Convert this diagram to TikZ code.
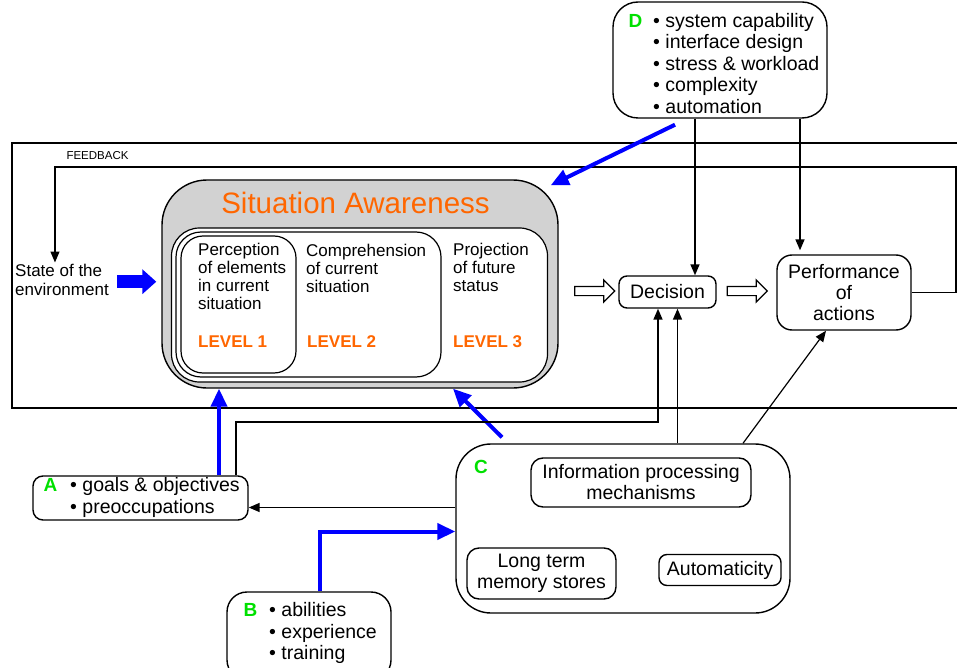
\documentclass[tikz,border=0pt]{standalone}
\usepackage{fontspec}
\setmainfont{Liberation Sans}
\usetikzlibrary{arrows.meta,shapes.arrows}
\definecolor{saorange}{RGB}{255,102,0}
\definecolor{sagreen}{RGB}{0,224,0}
\definecolor{sagray}{RGB}{210,210,210}
\definecolor{sablue}{RGB}{0,0,255}
\newcommand{\lettertag}[1]{\textcolor{sagreen}{\fontsize{19}{21}\selectfont\bfseries #1}}

\begin{document}
\begin{tikzpicture}[x=1pt,y=-1pt,
    box/.style={draw, line width=1.4pt, rounded corners=#1, inner sep=2pt, align=center, font=\fontsize{19.5}{21}\selectfont},
    box/.default=10pt,
    txt/.style={inner sep=0pt, font=\fontsize{19.5}{21.5}\selectfont},
    satxt/.style={inner sep=0pt, anchor=base west, font=\fontsize{17}{18.3}\selectfont},
    lvl/.style={inner sep=0pt, anchor=base west, text=saorange, font=\fontsize{17}{18}\selectfont\bfseries},
    tag/.style={inner sep=0pt, text=sagreen, font=\fontsize{19}{21}\selectfont\bfseries},
    blk/.style={line width=1.6pt, -{Triangle[length=11pt,width=9pt]}},
    blu/.style={color=sablue, line width=4pt, -{Triangle[length=18pt,width=16pt]}},
    hollow/.style={draw, line width=1.2pt, fill=white, shape=single arrow, inner sep=4pt, single arrow head extend=6.5pt, minimum height=40pt}]
    \useasboundingbox (0,0) rectangle (957,668);
    \draw[line width=2.4pt] (12,143) rectangle (975,408);

    \node[box=45pt, fill=sagray, minimum width=396pt, minimum height=208pt] (sa) at (360,284) {};
    \node[box=28pt, fill=white, line width=1.2pt, minimum width=376pt, minimum height=154pt] (lvls) at (359.5,305) {};
    \node[box=25pt, line width=1.2pt, minimum width=265pt, minimum height=145pt] (lvtwo) at (308.5,304.5) {};
    \node[box=22pt, line width=1.2pt, minimum width=115pt, minimum height=137pt] (lvone) at (238.5,304.5) {};
    \node[inner sep=0pt, text=saorange, font=\fontsize{29.5}{32}\selectfont] (satitle) at (355.5,203) {Situation Awareness};
    \node[satxt] (perc) at (198,255) {\begin{tabular}[t]{@{}l@{}}Perception\\of elements\\in current\\situation\end{tabular}};
    \node[satxt] (comp) at (306,256) {\begin{tabular}[t]{@{}l@{}}Comprehension\\of current\\situation\end{tabular}};
    \node[satxt] (proj) at (453,255) {\begin{tabular}[t]{@{}l@{}}Projection\\of future\\status\end{tabular}};
    \node[lvl] (lvla) at (198,347) {LEVEL 1};
    \node[lvl] (lvlb) at (307,347) {LEVEL 2};
    \node[lvl] (lvlc) at (453,347) {LEVEL 3};

    \node[satxt, font=\fontsize{17}{19}\selectfont] (env) at (15,276) {\begin{tabular}[t]{@{}l@{}}State of the\\environment\end{tabular}};
    \node[inner sep=0pt, font=\fontsize{11.5}{12}\selectfont] (fblabel) at (97.5,156) {FEEDBACK};

    \node[hollow] (hola) at (592.5,291) {};
    \node[box=8pt, minimum width=97pt, minimum height=32pt] (dec) at (667.5,292) {Decision};
    \node[hollow] (holb) at (745,291) {};
    \node[box=15pt, minimum width=134pt, minimum height=75pt] (perf) at (844,292.5) {Performance\\of\\actions};

    \node[box=25pt, minimum width=214pt, minimum height=116pt] (dbox) at (720,60) {};
    \node[txt, anchor=west] (dtext) at ([shift={(16,6)}]dbox.west) {\begin{tabular}{@{}l@{\hspace{11pt}}l@{}}\lettertag{D} & • system capability\\ & • interface design\\ & • stress \& workload\\ & • complexity\\ & • automation\end{tabular}};

    \node[box=35pt, minimum width=334pt, minimum height=169pt] (cbox) at (623,528.5) {};
    \node[tag] (ctag) at (481,467) {C};
    \node[box=12pt, minimum width=220pt, minimum height=49pt] (ipm) at (641,482.5) {Information processing\\mechanisms};
    \node[box=12pt, minimum width=149pt, minimum height=51pt] (ltm) at (541.5,573.5) {Long term\\memory stores};
    \node[box=8pt, minimum width=122pt, minimum height=31pt] (auto) at (720,570) {Automaticity};

    \node[box=10pt, minimum width=215pt, minimum height=44pt] (abox) at (140.5,498) {};
    \node[txt, anchor=west] (atext) at ([xshift=11pt]abox.west) {\begin{tabular}{@{}l@{\hspace{13pt}}l@{}}\lettertag{A} & • goals \& objectives\\ & • preoccupations\end{tabular}};
    \node[box=20pt, minimum width=164pt, minimum height=88pt] (bbox) at (309,636) {};
    \node[txt, anchor=west] (btext) at ([shift={(17,-2)}]bbox.west) {\begin{tabular}{@{}l@{\hspace{12pt}}l@{}}\lettertag{B} & • abilities\\ & • experience\\ & • training\end{tabular}};

    \coordinate (fbturn) at (956,167);
    \draw[blk, line width=1.3pt] (perf.east) -| (fbturn) -| ([xshift=-7pt]env.north);
    \draw[color=sablue, line width=13pt, -{Triangle[length=14pt,width=24pt]}] ([xshift=8.5pt]env.east) -- ([xshift=-5pt]sa.west |- env.east);

    \draw[blk] ([xshift=-25pt]dbox.south) -- ([xshift=-25pt]dbox.south |- dec.north);
    \draw[blk, shorten >=4pt] ([xshift=80pt]dbox.south) -- ([xshift=80pt]dbox.south |- perf.north);
    \draw[blu] ([shift={(-45,6)}]dbox.south) -- ([shift={(-8,6)}]sa.north east);

    \draw[blu] ([shift={(-121,-6)}]cbox.north) -- ([xshift=93pt]sa.south);
    \draw[blk] ([xshift=10pt]dec.south |- cbox.north) -- ([xshift=10pt]dec.south);
    \draw[blk, line width=1.2pt] ([xshift=120pt]cbox.north) -- ([xshift=-18pt]perf.south);
    \draw[blk] ([yshift=21pt]cbox.west) -- ([yshift=21pt]cbox.west -| abox.east);
    \draw[blu] ([xshift=11pt]bbox.north) |- ([yshift=-3pt]cbox.west);

    \coordinate (aturn) at (658,422);
    \draw[blu] ([xshift=78.5pt]abox.north) -- ([xshift=78.5pt]abox.north |- sa.south);
    \draw[blk] ([xshift=95.5pt]abox.north) |- (aturn) -- (aturn |- dec.south);
\end{tikzpicture}
\end{document}
